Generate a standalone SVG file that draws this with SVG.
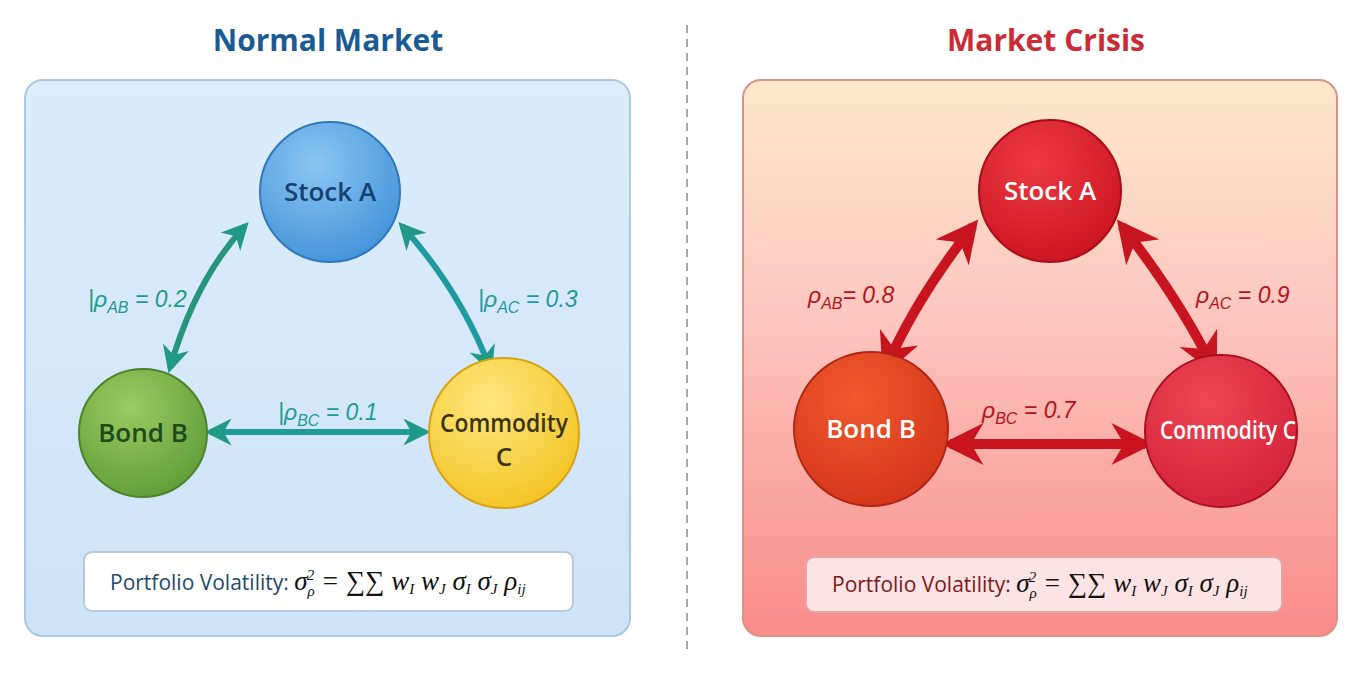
<svg xmlns="http://www.w3.org/2000/svg" width="1363" height="673" viewBox="0 0 1363 673">
<style>
.t{font-family:"Open Sans","Noto Sans",sans-serif}
.title{font-size:30px;font-weight:bold;text-anchor:middle}
.node{font-size:26px;font-weight:600;text-anchor:middle}
.lab{font-family:"Liberation Sans","DejaVu Sans",sans-serif;font-style:italic;font-size:23px}
.f{font-size:21px}
.m{font-family:"Liberation Serif","DejaVu Serif",serif;font-style:italic;font-size:27px}
</style>
<defs>
<linearGradient id="bgL" x1="0" y1="0" x2="0" y2="1"><stop offset="0" stop-color="#dcecfb"/><stop offset="1" stop-color="#cfe3f8"/></linearGradient>
<linearGradient id="bgR" x1="0" y1="0" x2="0" y2="1"><stop offset="0" stop-color="#fde8c8"/><stop offset="0.4" stop-color="#fdc9c2"/><stop offset="1" stop-color="#f98b88"/></linearGradient>
<radialGradient id="gA" cx="0.4" cy="0.3" r="0.8"><stop offset="0" stop-color="#8cc6f2"/><stop offset="1" stop-color="#3d8fd8"/></radialGradient>
<radialGradient id="gB" cx="0.4" cy="0.3" r="0.8"><stop offset="0" stop-color="#9ccb62"/><stop offset="1" stop-color="#5a9a35"/></radialGradient>
<radialGradient id="gC" cx="0.4" cy="0.3" r="0.8"><stop offset="0" stop-color="#ffe680"/><stop offset="1" stop-color="#f2c21c"/></radialGradient>
<radialGradient id="rA" cx="0.4" cy="0.3" r="0.8"><stop offset="0" stop-color="#ec3a42"/><stop offset="1" stop-color="#c8121f"/></radialGradient>
<radialGradient id="rB" cx="0.4" cy="0.3" r="0.8"><stop offset="0" stop-color="#ef5a2c"/><stop offset="1" stop-color="#d2321a"/></radialGradient>
<radialGradient id="rC" cx="0.4" cy="0.3" r="0.8"><stop offset="0" stop-color="#ee4652"/><stop offset="1" stop-color="#d21f36"/></radialGradient>
<marker id="ag" viewBox="0 0 10 10" refX="8" refY="5" markerWidth="4.5" markerHeight="4.5" orient="auto-start-reverse"><path d="M0,0L10,5L0,10L3,5z" fill="#1f9a86"/></marker>
<marker id="ar" viewBox="0 0 10 10" refX="8" refY="5" markerWidth="4.2" markerHeight="4.2" orient="auto-start-reverse"><path d="M0,0L10,5L0,10L3,5z" fill="#c8141f"/></marker>
</defs>
<line x1="687" y1="25" x2="687" y2="650" stroke="#aaa" stroke-width="2" stroke-dasharray="8,6"/>
<text class="t title" x="328" y="51" fill="#1b5b95">Normal Market</text>
<text class="t title" x="1046" y="51" fill="#cc2b36">Market Crisis</text>
<rect x="25" y="80" width="605" height="556" rx="18" fill="url(#bgL)" stroke="#a8c8e6" stroke-width="2"/>
<rect x="743" y="80" width="594" height="556" rx="18" fill="url(#bgR)" stroke="#d9928a" stroke-width="2"/>
<g id="connectors">
<path d="M245,226 Q195,280 170,368" fill="none" stroke="#26967a" stroke-width="6" marker-start="url(#ag)" marker-end="url(#ag)"/>
<path d="M402,226 Q460,290 490,368" fill="none" stroke="#1f9aa0" stroke-width="6" marker-start="url(#ag)" marker-end="url(#ag)"/>
<path d="M210,432 L425,432" fill="none" stroke="#1f9a96" stroke-width="6" marker-start="url(#ag)" marker-end="url(#ag)"/>
<path d="M973,226 Q915,300 886,368" fill="none" stroke="#c8141f" stroke-width="10" marker-start="url(#ar)" marker-end="url(#ar)"/>
<path d="M1122,226 Q1180,300 1213,368" fill="none" stroke="#c8141f" stroke-width="10" marker-start="url(#ar)" marker-end="url(#ar)"/>
<path d="M950,444 L1145,444" fill="none" stroke="#c8141f" stroke-width="10" marker-start="url(#ar)" marker-end="url(#ar)"/>
<text class="lab" x="88" y="307" fill="#1f9a86">|ρ<tspan font-size="16" dy="6">AB</tspan><tspan dy="-6"> = 0.2</tspan></text>
<text class="lab" x="478" y="307" fill="#1f9aa0">|ρ<tspan font-size="16" dy="6">AC</tspan><tspan dy="-6"> = 0.3</tspan></text>
<text class="lab" x="278" y="420" fill="#1f9a96">|ρ<tspan font-size="16" dy="6">BC</tspan><tspan dy="-6"> = 0.1</tspan></text>
<text class="lab" x="808" y="303" fill="#b3131c">ρ<tspan font-size="16" dy="6">AB</tspan><tspan dy="-6">= 0.8</tspan></text>
<text class="lab" x="1196" y="303" fill="#b3131c">ρ<tspan font-size="16" dy="6">AC</tspan><tspan dy="-6"> = 0.9</tspan></text>
<text class="lab" x="982" y="418" fill="#b3131c">ρ<tspan font-size="16" dy="6">BC</tspan><tspan dy="-6"> = 0.7</tspan></text>
</g>
<g id="L-stockA"><circle cx="330" cy="192" r="70" fill="url(#gA)" stroke="#2e78bd" stroke-width="2"/><text class="t node" x="330" y="201" fill="#17426e">Stock A</text></g>
<g id="L-bondB"><circle cx="143" cy="433" r="64" fill="url(#gB)" stroke="#4a842b" stroke-width="2"/><text class="t node" x="143" y="442" fill="#1f4a1a">Bond B</text></g>
<g id="L-commC"><circle cx="504" cy="433" r="75" fill="url(#gC)" stroke="#d8a312" stroke-width="2"/><text class="t node" x="504" y="432" fill="#3a3510" font-size="21" textLength="128" lengthAdjust="spacingAndGlyphs">Commodity</text><text class="t node" x="504" y="466" fill="#3a3510" font-size="21">C</text></g>
<g id="R-stockA"><circle cx="1050" cy="191" r="71" fill="url(#rA)" stroke="#a80e18" stroke-width="2"/><text class="t node" x="1050" y="200" fill="#fff">Stock A</text></g>
<g id="R-bondB"><circle cx="871" cy="429" r="77" fill="url(#rB)" stroke="#b02412" stroke-width="2"/><text class="t node" x="871" y="438" fill="#fff" font-size="28">Bond B</text></g>
<g id="R-commC"><circle cx="1221" cy="431" r="76" fill="url(#rC)" stroke="#a8101e" stroke-width="2"/><text class="t node" x="1228" y="439" fill="#fff" font-size="21" textLength="136" lengthAdjust="spacingAndGlyphs">Commodity C</text></g>
<g id="L-formula"><rect x="84" y="552" width="489" height="59" rx="8" fill="#fff" stroke="#b8c8d8" stroke-width="2"/>
<text class="t f" x="110" y="590" fill="#1d4a6b">Portfolio Volatility:  <tspan class="m" fill="#111">σ<tspan font-size="15" dy="6">ρ</tspan><tspan font-size="15" dx="-8" dy="-16">2</tspan><tspan dy="10"> = ∑∑ w<tspan font-size="15" dy="4">I</tspan><tspan dy="-4"> w</tspan><tspan font-size="15" dy="4">J</tspan><tspan dy="-4"> σ</tspan><tspan font-size="15" dy="4">I</tspan><tspan dy="-4"> σ</tspan><tspan font-size="15" dy="4">J</tspan><tspan dy="-4"> ρ</tspan><tspan font-size="15" dy="4">ij</tspan></tspan></tspan></text></g>
<g id="R-formula"><rect x="806" y="557" width="476" height="55" rx="8" fill="#fde3e3" stroke="#e0a8a8" stroke-width="2"/>
<text class="t f" x="832" y="592" fill="#7a1a1a">Portfolio Volatility:  <tspan class="m" fill="#111">σ<tspan font-size="15" dy="6">ρ</tspan><tspan font-size="15" dx="-8" dy="-16">2</tspan><tspan dy="10"> = ∑∑ w<tspan font-size="15" dy="4">I</tspan><tspan dy="-4"> w</tspan><tspan font-size="15" dy="4">J</tspan><tspan dy="-4"> σ</tspan><tspan font-size="15" dy="4">I</tspan><tspan dy="-4"> σ</tspan><tspan font-size="15" dy="4">J</tspan><tspan dy="-4"> ρ</tspan><tspan font-size="15" dy="4">ij</tspan></tspan></tspan></text></g>
</svg>
